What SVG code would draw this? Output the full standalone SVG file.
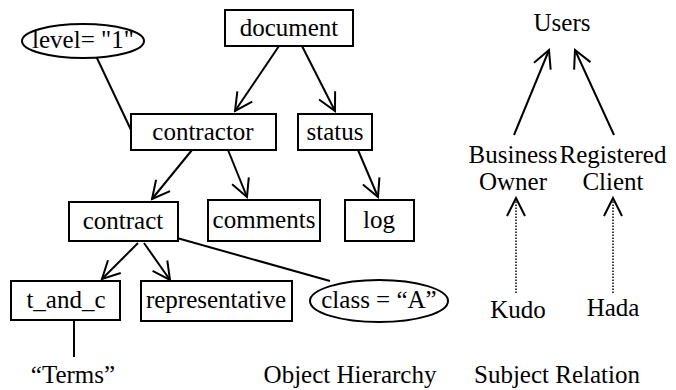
<svg xmlns="http://www.w3.org/2000/svg" width="676" height="390" viewBox="0 0 676 390">
<style>
  .box { fill: #fff; stroke: #000; stroke-width: 2; }
  .ell { fill: #fff; stroke: #000; stroke-width: 2; }
  .ln { fill: none; stroke: #000; stroke-width: 2; }
  .arr { fill: none; stroke: #000; stroke-width: 2; marker-end: url(#open); }
  .dot { fill: none; stroke: #000; stroke-width: 1.5; stroke-dasharray: 1.5 1.5; marker-end: url(#open2); }
</style>
<defs>
  <marker id="open" viewBox="-22 -12 24 24" refX="0" refY="0" markerWidth="24" markerHeight="24" markerUnits="userSpaceOnUse" orient="auto">
    <path d="M-17.5,-9 L0,0 L-17.5,9" fill="none" stroke="#000" stroke-width="2"/>
  </marker>
  <marker id="open2" viewBox="-22 -12 24 24" refX="0" refY="0" markerWidth="24" markerHeight="24" markerUnits="userSpaceOnUse" orient="auto">
    <path d="M-18,-9 L0,0 L-18,9" fill="none" stroke="#000" stroke-width="2"/>
  </marker>
</defs>

<g id="connectors">
  <line class="arr" x1="279" y1="46" x2="235" y2="111"/>
  <line class="arr" x1="302" y1="46" x2="335" y2="111"/>
  <line class="ln" x1="96" y1="56" x2="131" y2="130"/>
  <line class="arr" x1="192" y1="150" x2="152" y2="199"/>
  <line class="arr" x1="228" y1="150" x2="247" y2="197"/>
  <line class="arr" x1="358" y1="150" x2="378" y2="197"/>
  <line class="arr" x1="138" y1="243" x2="102" y2="279"/>
  <line class="arr" x1="144" y1="243" x2="170" y2="280"/>
  <line class="ln" x1="177" y1="238" x2="330" y2="281"/>
  <line class="ln" x1="74" y1="320" x2="74" y2="357"/>
  <line class="arr" x1="514" y1="135" x2="549" y2="50"/>
  <line class="arr" x1="614" y1="135" x2="575" y2="50"/>
  <line class="dot" x1="516" y1="293" x2="516" y2="198"/>
  <line class="dot" x1="613" y1="293" x2="613" y2="198"/>
</g>

<g id="document"><rect class="box" x="225" y="10" width="128" height="36"/><text font-family="Liberation Serif" font-size="25" text-anchor="middle" x="289" y="36">document</text></g>
<g id="level"><ellipse class="ell" cx="83" cy="41" rx="61" ry="17"/><text font-family="Liberation Serif" font-size="25" text-anchor="middle" x="83" y="48">level= "1"</text></g>
<g id="contractor"><rect class="box" x="131" y="114" width="145" height="36"/><text font-family="Liberation Serif" font-size="25" text-anchor="middle" x="203" y="140">contractor</text></g>
<g id="status"><rect class="box" x="298" y="114" width="74" height="36"/><text font-family="Liberation Serif" font-size="25" text-anchor="middle" x="335" y="140">status</text></g>
<g id="contract"><rect class="box" x="69" y="202" width="109" height="39"/><text font-family="Liberation Serif" font-size="25" text-anchor="middle" x="123" y="229">contract</text></g>
<g id="comments"><rect class="box" x="208" y="200" width="112" height="41"/><text font-family="Liberation Serif" font-size="25" text-anchor="middle" x="264" y="228">comments</text></g>
<g id="log"><rect class="box" x="345" y="200" width="69" height="41"/><text font-family="Liberation Serif" font-size="25" text-anchor="middle" x="379" y="228">log</text></g>
<g id="t_and_c"><rect class="box" x="11" y="281" width="109" height="39"/><text font-family="Liberation Serif" font-size="25" text-anchor="middle" x="66" y="308">t_and_c</text></g>
<g id="representative"><rect class="box" x="141" y="281" width="151" height="40"/><text font-family="Liberation Serif" font-size="25" text-anchor="middle" x="216" y="308">representative</text></g>
<g id="class"><ellipse class="ell" cx="379" cy="301" rx="69" ry="21"/><text font-family="Liberation Serif" font-size="25" text-anchor="middle" x="379" y="308">class = “A”</text></g>
<g id="terms"><text font-family="Liberation Serif" font-size="25" text-anchor="middle" x="73" y="383">“Terms”</text></g>
<g id="title-object"><text font-family="Liberation Serif" font-size="25" text-anchor="middle" x="350" y="383">Object Hierarchy</text></g>
<g id="users"><text font-family="Liberation Serif" font-size="25" text-anchor="middle" x="562" y="31">Users</text></g>
<g id="business-owner"><text font-family="Liberation Serif" font-size="25" text-anchor="middle" x="513" y="163">Business</text><text font-family="Liberation Serif" font-size="25" text-anchor="middle" x="513" y="190">Owner</text></g>
<g id="registered-client"><text font-family="Liberation Serif" font-size="25" text-anchor="middle" x="613" y="163">Registered</text><text font-family="Liberation Serif" font-size="25" text-anchor="middle" x="613" y="190">Client</text></g>
<g id="kudo"><text font-family="Liberation Serif" font-size="25" text-anchor="middle" x="518" y="318">Kudo</text></g>
<g id="hada"><text font-family="Liberation Serif" font-size="25" text-anchor="middle" x="613" y="316">Hada</text></g>
<g id="title-subject"><text font-family="Liberation Serif" font-size="25" text-anchor="middle" x="557" y="383">Subject Relation</text></g>
</svg>
